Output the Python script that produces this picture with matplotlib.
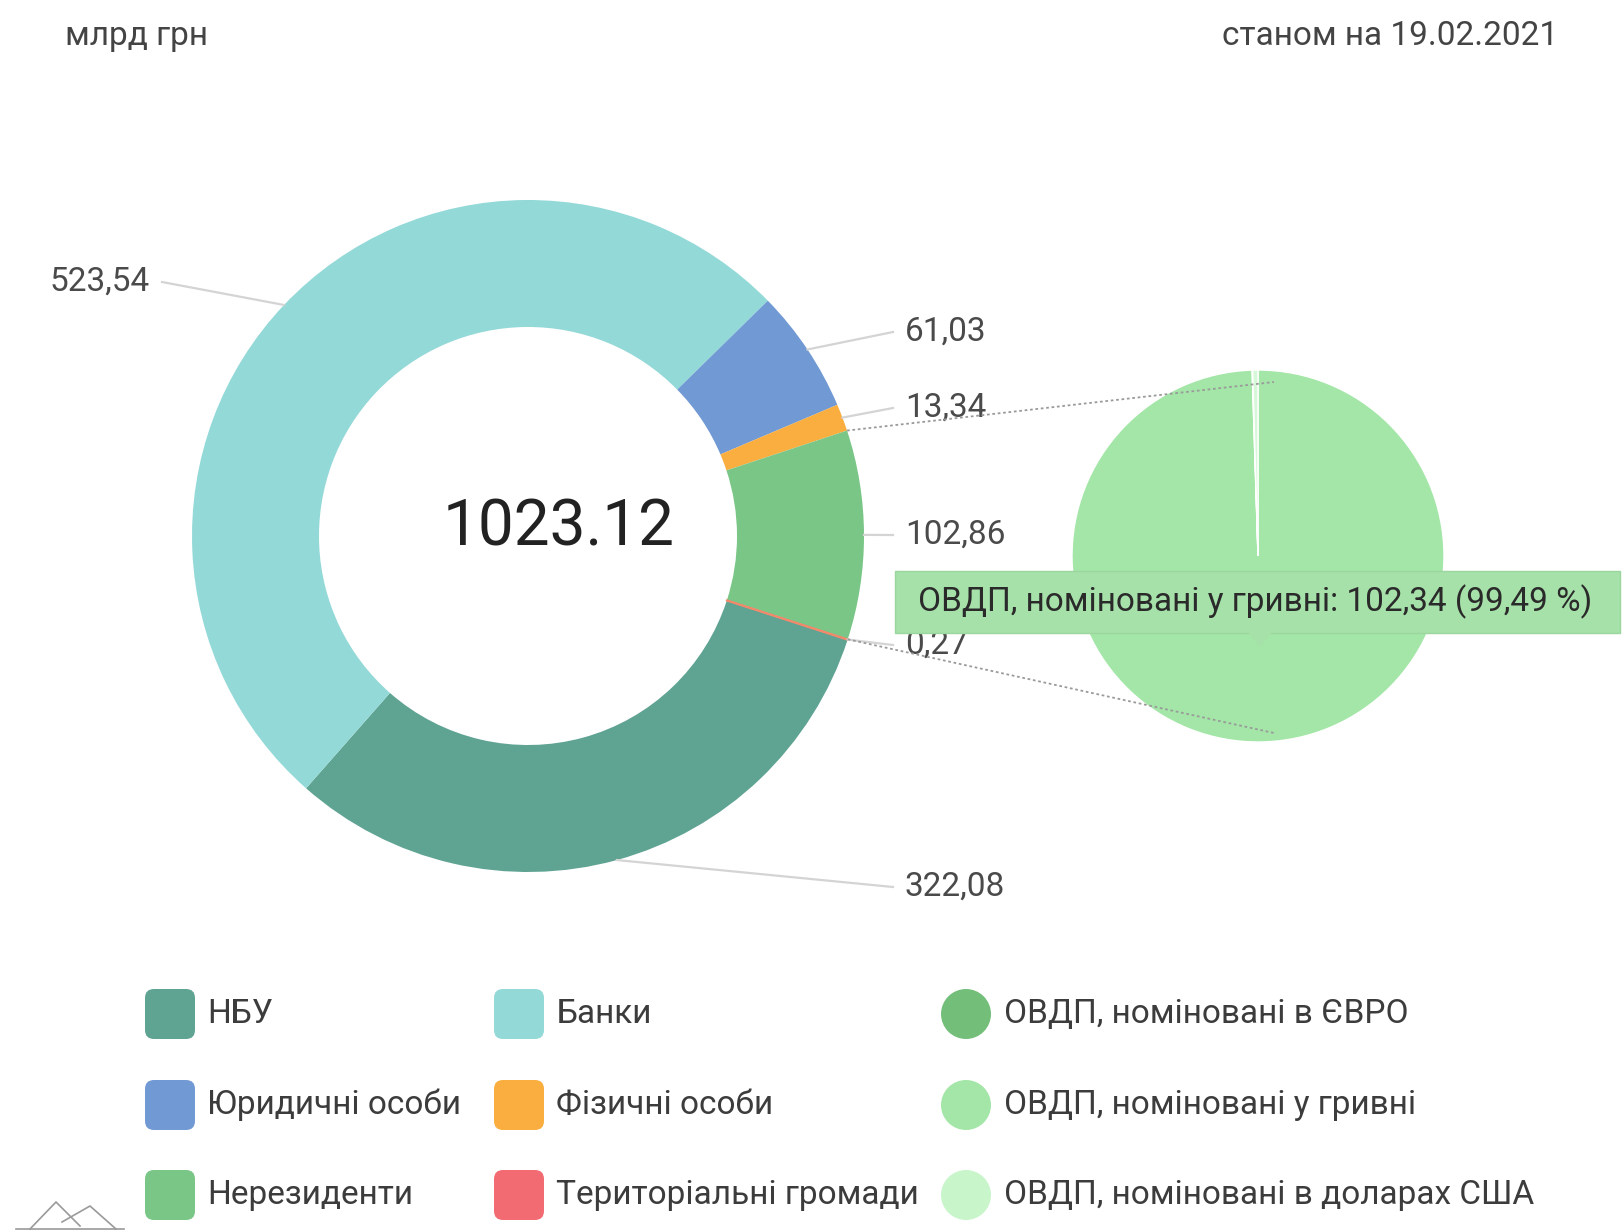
import matplotlib
matplotlib.use("Agg")
import matplotlib.pyplot as plt
import numpy as np
from matplotlib.patches import FancyBboxPatch, Circle, Polygon

plt.rcParams['font.family'] = ['Roboto', 'DejaVu Sans']

# data, bn UAH as of 19.02.2021
holders = ['НБУ', 'Банки', 'Юридичні особи', 'Фізичні особи', 'Нерезиденти', 'Територіальні громади']
amounts = [322.08, 523.54, 61.03, 13.34, 102.86, 0.27]
amount_labels = ['322,08', '523,54', '61,03', '13,34', '102,86', '0,27']
holder_colors = ['#5fa392', '#93d9d8', '#7199d4', '#f9ae3f', '#79c687', '#f36b72']

# breakdown of non-residents by currency
bond_kinds = ['ОВДП, номіновані у гривні', 'ОВДП, номіновані в ЄВРО', 'ОВДП, номіновані в доларах США']
bond_amounts = [102.34, 0.05, 0.47]
bond_colors = ['#a3e6a7', '#73bf7a', '#d6f8d8']

W, H = 1623, 1231
def Y(y):  # picture coords (from top) -> axes coords
    return H - y

fig = plt.figure(figsize=(W / 100, H / 100), dpi=100)
ax = fig.add_axes([0, 0, 1, 1])

# main donut
c0 = (528, Y(536))
R, ring = 336, 127
wedges, _ = ax.pie(amounts, colors=holder_colors, startangle=-18, counterclock=False,
                   radius=R, center=c0, wedgeprops=dict(width=ring, edgecolor='none'))
wedges[5].set_edgecolor('#f08a6c')
wedges[5].set_linewidth(1.3)

# second pie (non-residents)
c1 = (1258, Y(556))
ax.pie(bond_amounts, colors=bond_colors, startangle=90, counterclock=False,
       radius=186, center=c1, wedgeprops=dict(edgecolor='white', linewidth=1.0))

ax.set_xlim(0, W)
ax.set_ylim(0, H)
ax.set_aspect('equal')
ax.axis('off')

ax.text(559, Y(528), '1023.12', fontsize=46, color='#222222', ha='center', va='center')

def edge_point(w, ang, r):
    a = np.deg2rad(ang)
    return w.center[0] + r * np.cos(a), w.center[1] + r * np.sin(a)

# value labels with leader lines
label_pos = [(905, 887, 'left'), (150, 282, 'right'), (905, 332, 'left'),
             (905, 408, 'left'), (905, 535, 'left'), (905, 645, 'left')]
for w, txt, (lx, ly, ha) in zip(wedges, amount_labels, label_pos):
    mid = (w.theta1 + w.theta2) / 2
    sx, sy = edge_point(w, mid, R)
    ex = lx - 12 if ha == 'left' else lx + 12
    ax.plot([sx, ex], [sy, Y(ly)], color='#d4d4d4', lw=1.6, zorder=1)
    ax.text(lx, Y(ly), txt, fontsize=24, color='#4a4a4a', ha=ha, va='center')

# dotted connectors to the second pie
nr = wedges[4]
sx, sy = edge_point(nr, nr.theta2, R)
ax.plot([sx, 1274], [sy, Y(382)], ls=(0, (1.5, 1.5)), color='#9a9a9a', lw=1.3, zorder=3)
sx, sy = edge_point(nr, nr.theta1, R)
ax.plot([sx, 1274], [sy, Y(733)], ls=(0, (1.5, 1.5)), color='#9a9a9a', lw=1.3, zorder=3)

# tooltip
tip = FancyBboxPatch((895, Y(633)), 725, 62, boxstyle='square,pad=0',
                     facecolor='#a6e1a9', edgecolor='#9ad69d', lw=1, zorder=4)
ax.add_patch(tip)
ax.add_patch(Polygon([(1248, Y(633) + 1), (1272, Y(633) + 1), (1260, Y(647))],
                     closed=True, facecolor='#a6e1a9', edgecolor='none', zorder=5))
ax.text(918, Y(602), 'ОВДП, номіновані у гривні: 102,34 (99,49 %)', fontsize=24,
        color='#2a2a2a', ha='left', va='center', zorder=6)

# header
ax.text(65, Y(36), 'млрд грн', fontsize=24, color='#444444', ha='left', va='center')
ax.text(1558, Y(36), 'станом на 19.02.2021', fontsize=24, color='#444444', ha='right', va='center')

# legend
rows = [1014, 1105, 1195]
for i, (name, col) in enumerate(zip(holders, holder_colors)):
    cx = [170, 519][i % 2]
    ry = rows[i // 2]
    ax.add_patch(FancyBboxPatch((cx - 22, Y(ry) - 22), 44, 44,
                                boxstyle='round,pad=3,rounding_size=9',
                                facecolor=col, edgecolor='none'))
    ax.text(cx + 37, Y(ry), name, fontsize=24, color='#3c3c3c', ha='left', va='center')
for name, col, ry in zip(['ОВДП, номіновані в ЄВРО', 'ОВДП, номіновані у гривні',
                          'ОВДП, номіновані в доларах США'],
                         ['#73bf7a', '#a3e6a7', '#c9f5cb'], rows):
    ax.add_patch(Circle((966, Y(ry)), 25, facecolor=col, edgecolor='none'))
    ax.text(1004, Y(ry), name, fontsize=24, color='#3c3c3c', ha='left', va='center')

# small logo fragment, bottom-left
ax.plot([16, 124], [Y(1229), Y(1229)], color='#9a9a9a', lw=1.2)
ax.plot([30, 56, 80], [Y(1229), Y(1202), Y(1226)], color='#9a9a9a', lw=1.2)
ax.plot([62, 90, 116], [Y(1222), Y(1206), Y(1229)], color='#9a9a9a', lw=1.2)

fig.savefig('out.png', dpi=100, facecolor='white')
